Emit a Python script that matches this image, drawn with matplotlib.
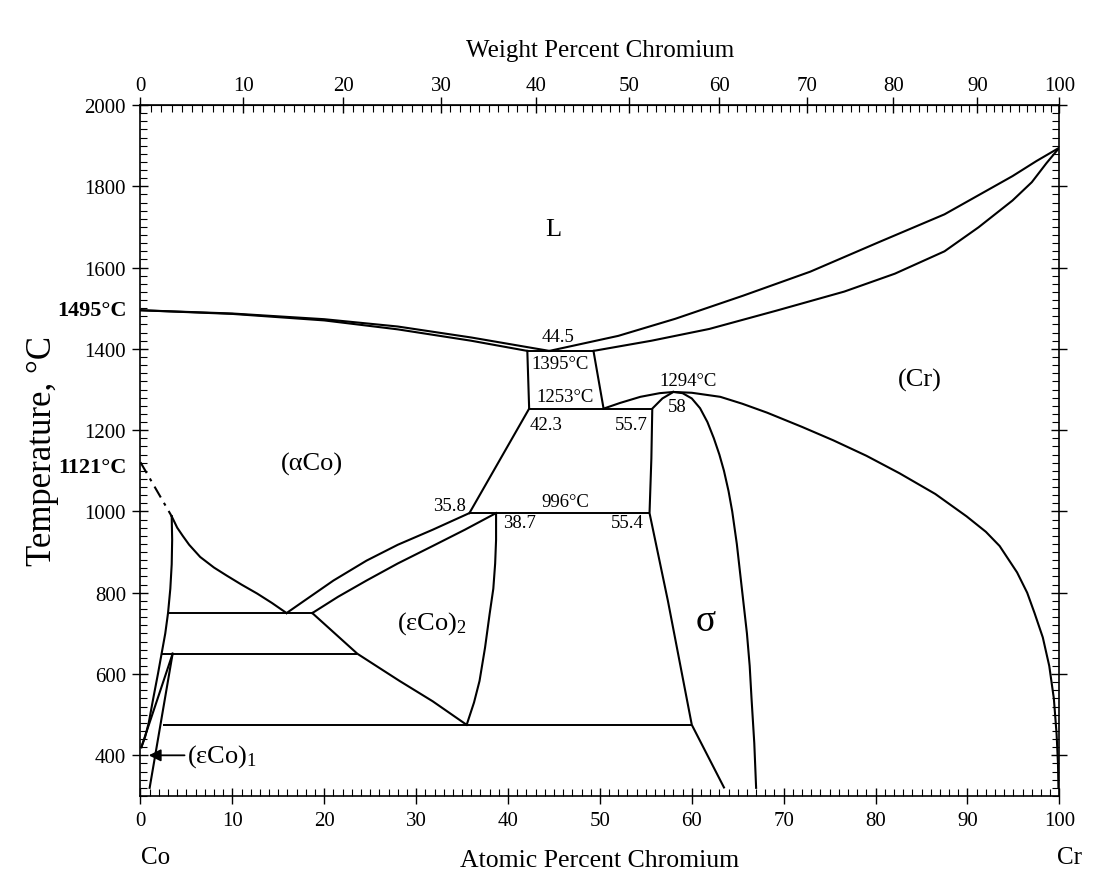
import numpy as np
import matplotlib.pyplot as plt
from matplotlib.ticker import MultipleLocator

plt.rcParams['font.family'] = ['Liberation Serif', 'DejaVu Serif']
plt.rcParams['mathtext.fontset'] = 'custom'
plt.rcParams['mathtext.rm'] = 'Liberation Serif'
plt.rcParams['mathtext.it'] = 'Liberation Serif:italic'

# atomic masses for the weight-percent scale on top
M_CO = 58.933
M_CR = 51.996

# liquidus / solidus
liq_left_x = [0, 10, 20, 28, 36, 44.5]
liq_left_t = [1495, 1487, 1473, 1455, 1428, 1395]
sol_left_x = [0, 10, 20, 28, 36, 42.1]
sol_left_t = [1495, 1486, 1470, 1448, 1420, 1395]
liq_right_x = [44.5, 52.0, 58.2, 65.6, 72.9, 80.3, 87.5, 91.2, 94.9, 97.5, 100]
liq_right_t = [1395, 1432, 1474, 1531, 1590, 1662, 1731, 1778, 1825, 1862, 1895]
sol_right_x = [49.3, 55.6, 61.9, 69.2, 76.6, 82.1, 87.5, 91.2, 94.9, 97.0, 98.6, 100]
sol_right_t = [1395, 1420, 1449, 1494, 1541, 1585, 1640, 1699, 1765, 1810, 1857, 1895]

# (Cr) solvus through the congruent point of sigma
cr_x = [50.4, 52.2, 54.4, 56.5, 58, 60.0, 63.1, 65.5, 68.2, 72.0, 75.4, 79.0, 82.6,
        86.5, 89.9, 92.0, 93.5, 95.4, 96.5, 97.3, 98.2, 98.9, 99.4, 99.7, 99.85, 99.9]
cr_t = [1253, 1267, 1282, 1291, 1294, 1292, 1282, 1265, 1243, 1208, 1175, 1137, 1094,
        1043, 988, 950, 915, 850, 800, 750, 690, 620, 540, 452, 380, 320]

# sigma phase boundaries
sig_left_x = [58, 56.8, 55.7, 55.6, 55.4, 57.4, 60.0, 63.5]
sig_left_t = [1294, 1278, 1253, 1130, 996, 780, 475, 321]
sig_right_x = [58, 59.0, 60.0, 60.9, 61.7, 62.4, 63.0, 63.5, 64.0, 64.4, 64.9,
               65.3, 65.7, 66.0, 66.3, 66.5, 66.8, 67.0]
sig_right_t = [1294, 1291, 1278, 1254, 1220, 1180, 1140, 1100, 1050, 1000, 920,
               840, 760, 700, 620, 540, 430, 320]

# (aCo) side
box_left_x, box_left_t = [42.1, 42.3], [1395, 1253]
box_right_x, box_right_t = [49.3, 50.4], [1395, 1253]
slant_x, slant_t = [35.8, 42.3], [996, 1253]
mag_x, mag_t = [0, 3.4], [1121, 988]
a_solv_x = [3.4, 4.0, 4.6, 5.3, 6.5, 8.0, 9.4, 11.0, 12.7, 14.3, 15.9]
a_solv_t = [988, 960, 940, 918, 888, 862, 842, 820, 798, 775, 750]
e1_a_x = [3.4, 3.45, 3.4, 3.25, 3.0, 2.7, 2.3, 1.9, 1.4, 0.9, 0.5, 0.1]
e1_a_t = [988, 930, 870, 810, 750, 700, 650, 600, 541, 480, 445, 420]
e1_b_x, e1_b_t = [0.1, 3.5], [420, 650]
e1_c_x, e1_c_t = [3.5, 1.0], [650, 320]

# (eCo)2 field
e2_up_x = [15.9, 18.0, 21.0, 24.6, 28.0, 31.8, 35.8]
e2_up_t = [750, 783, 830, 879, 918, 955, 996]
e2_lo_x = [18.7, 21.5, 24.6, 28.0, 31.8, 35.3, 38.7]
e2_lo_t = [750, 790, 830, 872, 915, 955, 996]
e2_right_x = [38.7, 38.7, 38.6, 38.4, 38.0, 37.5, 36.9, 36.3, 35.5]
e2_right_t = [996, 930, 872, 810, 748, 665, 583, 530, 475]
e2_left_x = [18.7, 23.6, 26.0, 28.2, 31.8, 35.5]
e2_left_t = [750, 650, 615, 583, 533, 475]

# invariant reactions
inv_t = [1395, 1253, 996, 750, 650, 475]
inv_x0 = [42.1, 42.3, 35.8, 3.0, 2.3, 2.4]
inv_x1 = [49.3, 55.7, 55.4, 18.7, 23.6, 60.0]


def at_to_wt(x):
    x = np.asarray(x, dtype=float)
    with np.errstate(divide='ignore', invalid='ignore'):
        return 100 * x * M_CR / (x * M_CR + (100 - x) * M_CO)


def wt_to_at(w):
    w = np.asarray(w, dtype=float)
    with np.errstate(divide='ignore', invalid='ignore'):
        return 100 * (w / M_CR) / (w / M_CR + (100 - w) / M_CO)


fig = plt.figure(figsize=(11.13, 8.87), dpi=100)
ax = fig.add_axes([0.1262, 0.1015, 0.8256, 0.779])

lw = 1.5
curves = [
    (liq_left_x, liq_left_t), (sol_left_x, sol_left_t),
    (liq_right_x, liq_right_t), (sol_right_x, sol_right_t),
    (cr_x, cr_t), (sig_left_x, sig_left_t), (sig_right_x, sig_right_t),
    (box_left_x, box_left_t), (box_right_x, box_right_t), (slant_x, slant_t),
    (a_solv_x, a_solv_t), (e1_a_x, e1_a_t), (e1_b_x, e1_b_t), (e1_c_x, e1_c_t),
    (e2_up_x, e2_up_t), (e2_lo_x, e2_lo_t), (e2_right_x, e2_right_t), (e2_left_x, e2_left_t),
]
for xs, ts in curves:
    ax.plot(xs, ts, color='black', lw=lw, solid_joinstyle='round')
ax.plot(mag_x, mag_t, color='black', lw=lw, linestyle=(0, (6, 3, 1.5, 3)))
ax.hlines(inv_t, inv_x0, inv_x1, color='black', lw=1.4)

ax.set_xlim(0, 100)
ax.set_ylim(300, 2000)
ax.set_yticks(np.arange(400, 2001, 200))
ax.set_xticks(np.arange(0, 101, 10))
ax.xaxis.set_minor_locator(MultipleLocator(1))
ax.yaxis.set_minor_locator(MultipleLocator(20))
ax.tick_params(which='major', direction='inout', length=11, width=1.0,
               labelsize=15, top=False, right=True, pad=5)
ax.tick_params(which='minor', direction='in', length=5, width=0.8,
               top=False, right=True)
for s in ax.spines.values():
    s.set_linewidth(1.2)

sec = ax.secondary_xaxis('top', functions=(at_to_wt, wt_to_at))
sec.set_xticks(np.arange(0, 101, 10))
sec.xaxis.set_minor_locator(MultipleLocator(1))
sec.tick_params(which='major', direction='inout', length=11, width=1.0,
                labelsize=15, pad=2)
sec.tick_params(which='minor', direction='in', length=5, width=0.8)
sec.set_xlabel('Weight Percent Chromium', fontsize=18, labelpad=14)

ax.set_xlabel('Atomic Percent Chromium', fontsize=18.5, labelpad=14)
ax.set_ylabel('Temperature, °C', fontsize=25, labelpad=18)
ax.text(0.016, -0.088, 'Co', transform=ax.transAxes, fontsize=18,
        ha='center', va='center')
ax.text(1.011, -0.088, 'Cr', transform=ax.transAxes, fontsize=18,
        ha='center', va='center')

# melting / transformation points of pure Co
ax.text(-1.5, 1495, '1495°C', fontsize=16, fontweight='bold',
        ha='right', va='center', clip_on=False)
ax.text(-1.5, 1110, '1121°C', fontsize=16, fontweight='bold',
        ha='right', va='center', clip_on=False)

# phase fields
ax.text(44.9, 1694, 'L', fontsize=19, ha='center', va='center')
ax.text(18.7, 1119, '(αCo)', fontsize=19, ha='center', va='center')
ax.text(84.8, 1324, '(Cr)', fontsize=19, ha='center', va='center')
ax.text(61.5, 731, 'σ', fontsize=27, ha='center', va='center')
ax.text(31.7, 726, '(εCo)$_2$', fontsize=19, ha='center', va='center')
ax.annotate('(εCo)$_1$', xy=(0.9, 400), xytext=(5.1, 400), fontsize=19,
            ha='left', va='center',
            arrowprops=dict(arrowstyle='-|>', color='black', lw=1.3,
                            mutation_scale=18, shrinkA=0, shrinkB=0))

# invariant annotations
notes = [
    ('44.5', 45.4, 1430), ('1395°C', 45.7, 1363), ('1253°C', 46.2, 1282),
    ('42.3', 44.1, 1215), ('55.7', 53.4, 1215), ('1294°C', 59.6, 1323),
    ('58', 58.4, 1259), ('35.8', 33.6, 1015), ('996°C', 46.2, 1025),
    ('38.7', 41.2, 973), ('55.4', 53.0, 973),
]
for s, x, t in notes:
    ax.text(x, t, s, fontsize=13.5, ha='center', va='center')

fig.savefig('out.png', dpi=100, facecolor='white')
